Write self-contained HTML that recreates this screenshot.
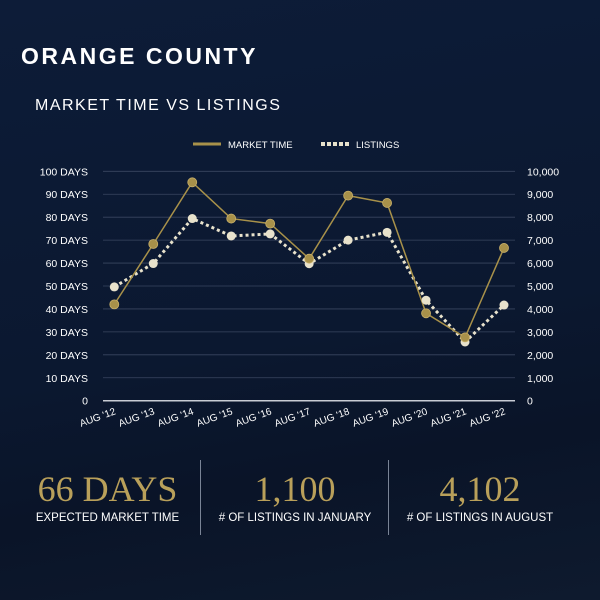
<!DOCTYPE html>
<html><head><meta charset="utf-8"><style>
html,body{margin:0;padding:0}
body{width:600px;height:600px;overflow:hidden;background:linear-gradient(170deg,#0d1c38 0%,#0b1830 55%,#0a1428 75%,#0e1a2e 100%);font-family:"Liberation Sans",sans-serif;color:#fff;position:relative}
.t{position:absolute;white-space:nowrap}
</style></head><body>
<div class="t" style="left:21px;top:43px;font-size:23px;font-weight:bold;letter-spacing:2.5px">ORANGE COUNTY</div>
<div class="t" style="left:35px;top:97px;font-size:16px;letter-spacing:1.5px">MARKET TIME VS LISTINGS</div>
<svg id="c" width="600" height="600" style="position:absolute;left:0;top:0"></svg>
<div class="t" style="left:0;width:215px;text-align:center;top:468px;font-family:'Liberation Serif',serif;font-size:36px;color:#b9a05a">66 DAYS</div>
<div class="t" style="left:0;width:215px;text-align:center;top:512px;font-size:11.5px">EXPECTED MARKET TIME</div>
<div class="t" style="left:200px;width:190px;text-align:center;top:468px;font-family:'Liberation Serif',serif;font-size:36px;color:#b9a05a">1,100</div>
<div class="t" style="left:200px;width:190px;text-align:center;top:512px;font-size:11.5px"># OF LISTINGS IN JANUARY</div>
<div class="t" style="left:385px;width:190px;text-align:center;top:468px;font-family:'Liberation Serif',serif;font-size:36px;color:#b9a05a">4,102</div>
<div class="t" style="left:385px;width:190px;text-align:center;top:512px;font-size:11.5px"># OF LISTINGS IN AUGUST</div>
<div style="position:absolute;left:200px;top:460px;width:1px;height:75px;background:#7a8496"></div>
<div style="position:absolute;left:388px;top:460px;width:1px;height:75px;background:#7a8496"></div>
<script>
const categories=["AUG '12","AUG '13","AUG '14","AUG '15","AUG '16","AUG '17","AUG '18","AUG '19","AUG '20","AUG '21","AUG '22"];
const marketTime=[42,68.3,95.2,79.4,77.2,61.9,89.4,86.2,38.1,27.6,66.6];
const listings=[4960,5980,7940,7180,7270,5970,7000,7340,4380,2560,4170];
const leftTicks=[0,10,20,30,40,50,60,70,80,90,100];
const rightTickLabels=["0","1,000","2,000","3,000","4,000","5,000","6,000","7,000","8,000","9,000","10,000"];
const svg=document.getElementById('c');const NS='http://www.w3.org/2000/svg';
const gold='#a8914a',cream='#e8e2cc';
function mk(t,a,p){const e=document.createElementNS(NS,t);for(const k in a)e.setAttribute(k,a[k]);(p||svg).appendChild(e);return e;}
const y0=400.7,y1=171.3,xl=103,xr=515,xs=114.3,xe=504;
const yL=v=>y0-(v/100)*(y0-y1);
const yR=v=>y0-(v/10000)*(y0-y1);
const x=i=>xs+i*(xe-xs)/(categories.length-1);
leftTicks.forEach((v,i)=>{
 const g=mk('line',{x1:xl,x2:xr,y1:yL(v),y2:yL(v),stroke:i==0?'#c8ccd4':'#3a4660','stroke-width':i==0?1.5:0.8});
 
 const t=mk('text',{x:88,y:yL(v)+4,'text-anchor':'end','font-size':10.5,fill:'#fff','font-family':'Liberation Sans'});
 t.textContent=v==0?'0':v+' DAYS';
 const r=mk('text',{x:527,y:yL(v)+4,'font-size':10.5,fill:'#fff','font-family':'Liberation Sans'});
 r.textContent=rightTickLabels[i];
});
categories.forEach((c,i)=>{
 const t=mk('text',{x:x(i)+2,y:414,'text-anchor':'end','font-size':10,fill:'#fff','font-family':'Liberation Sans',transform:`rotate(-20 ${x(i)+2} 414)`});
 t.textContent=c;
});
const lp=listings.map((v,i)=>x(i)+','+yR(v)).join(' ');
const l1=mk('polyline',{points:lp,fill:'none',stroke:cream,'stroke-width':3,'stroke-dasharray':'3 3'});

const mp=marketTime.map((v,i)=>x(i)+','+yL(v)).join(' ');
const l2=mk('polyline',{points:mp,fill:'none',stroke:gold,'stroke-width':1.5});

listings.forEach((v,i)=>{const c=mk('circle',{cx:x(i),cy:yR(v),r:4.5,fill:cream});});
marketTime.forEach((v,i)=>{const c=mk('circle',{cx:x(i),cy:yL(v),r:4.5,fill:gold,stroke:'#c9b06a','stroke-width':0.8});});
// legend
const lg=mk('line',{x1:193,x2:221,y1:144,y2:144,stroke:gold,'stroke-width':3});
const lt=mk('text',{x:228,y:148,'font-size':9.5,fill:'#fff','font-family':'Liberation Sans'});lt.textContent='MARKET TIME';
const ls=mk('line',{x1:321,x2:349,y1:144,y2:144,stroke:cream,'stroke-width':4,'stroke-dasharray':'4 2'});
const lt2=mk('text',{x:356,y:148,'font-size':9.5,fill:'#fff','font-family':'Liberation Sans'});lt2.textContent='LISTINGS';
</script>
</body></html>
